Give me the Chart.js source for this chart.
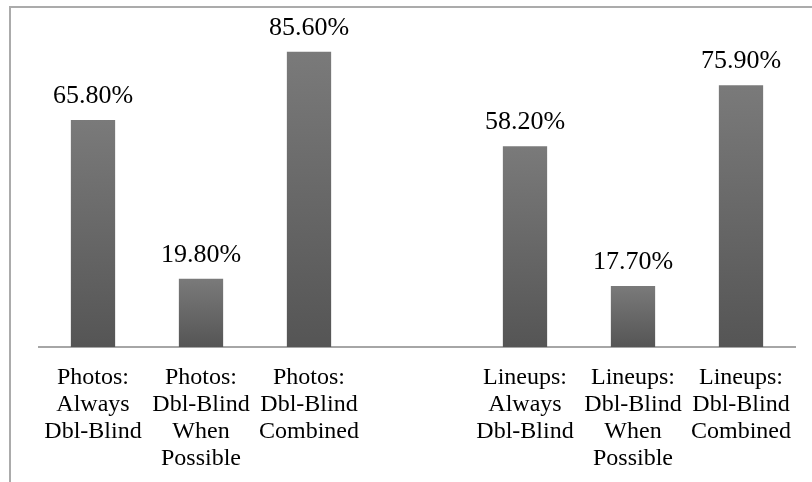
<!DOCTYPE html>
<html>
<head>
<meta charset="utf-8">
<script src="https://cdn.jsdelivr.net/npm/chart.js@4/dist/chart.umd.min.js"></script>
<style>
  html, body { margin: 0; padding: 0; background: #fff; }
  #wrap { position: relative; width: 812px; height: 482px; }
  #frame { position: absolute; left: 9px; top: 6px; right: 0; bottom: 0;
           border-left: 2px solid #ababab; border-top: 2px solid #ababab; }
  canvas { position: absolute; left: 0; top: 0; }
</style>
</head>
<body>
<div id="wrap">
  <div id="frame"></div>
  <canvas id="chart" width="812" height="482"></canvas>
</div>
<script>
// categories (empty one in the middle keeps the gap between groups)
const categories = [
  ['Photos:', 'Always', 'Dbl-Blind'],
  ['Photos:', 'Dbl-Blind', 'When', 'Possible'],
  ['Photos:', 'Dbl-Blind', 'Combined'],
  '',
  ['Lineups:', 'Always', 'Dbl-Blind'],
  ['Lineups:', 'Dbl-Blind', 'When', 'Possible'],
  ['Lineups:', 'Dbl-Blind', 'Combined']
];
const percents = [65.8, 19.8, 85.6, null, 58.2, 17.7, 75.9];

function barFill(ctx) {
  const chart = ctx.chart;
  const y = chart.scales.y;
  const v = ctx.raw;
  if (!chart.chartArea || !y || v == null) return '#666';
  const top = y.getPixelForValue(v);
  const bottom = y.getPixelForValue(0);
  const g = chart.ctx.createLinearGradient(0, top, 0, bottom);
  g.addColorStop(0, '#7a7a7a');
  g.addColorStop(1, '#555555');
  return g;
}

// draws the value above each bar
const valueLabels = {
  id: 'valueLabels',
  afterDatasetsDraw(chart) {
    const c = chart.ctx;
    const meta = chart.getDatasetMeta(0);
    c.save();
    c.font = '26px "Liberation Serif", "Times New Roman", serif';
    c.fillStyle = '#000';
    c.textAlign = 'center';
    c.textBaseline = 'alphabetic';
    meta.data.forEach((bar, i) => {
      const v = percents[i];
      if (v == null) return;
      c.fillText(v.toFixed(2) + '%', bar.x, bar.y - 17);
    });
    c.restore();
  }
};

new Chart(document.getElementById('chart'), {
  type: 'bar',
  data: {
    labels: categories,
    datasets: [{
      data: percents,
      backgroundColor: barFill,
      borderWidth: 0,
      barPercentage: 0.82,
      categoryPercentage: 0.5
    }]
  },
  options: {
    responsive: false,
    animation: false,
    events: [],
    layout: { padding: { left: 39, right: 17, top: 2, bottom: 0 } },
    plugins: { legend: { display: false }, tooltip: { enabled: false } },
    scales: {
      y: { display: false, min: 0, max: 100 },
      x: {
        afterFit(s) { s.height = 135; },
        grid: { display: false, drawTicks: false },
        border: { display: true, color: '#a6a6a6', width: 2 },
        ticks: {
          color: '#000',
          padding: 17,
          maxRotation: 0,
          autoSkip: false,
          font: { family: '"Liberation Serif", "Times New Roman", serif', size: 24, lineHeight: 1.13 }
        }
      }
    }
  },
  plugins: [valueLabels]
});
</script>
</body>
</html>
